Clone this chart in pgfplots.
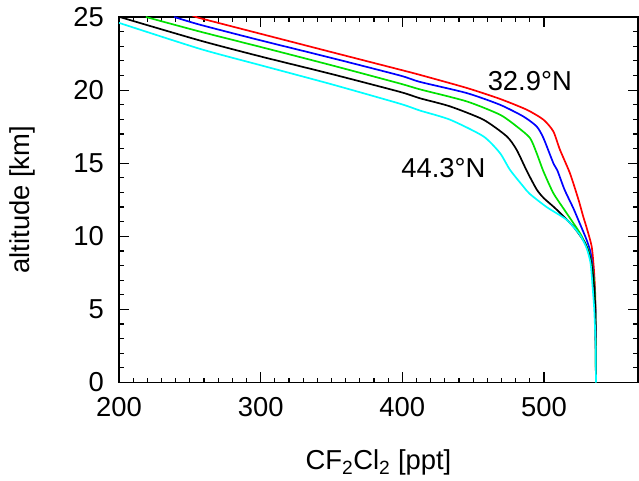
\documentclass[border=0pt]{standalone}
\usepackage{pgfplots}
\pgfplotsset{compat=1.18}
\usepackage{fontspec}
\setmainfont{Liberation Sans}
\definecolor{cgreen}{RGB}{0,225,0}
\definecolor{ccyan}{RGB}{0,255,255}
\begin{document}
\fontsize{27}{32}\selectfont
\begin{tikzpicture}
\begin{axis}[
  scale only axis,
  width=519bp, height=365.5bp,
  xmin=200, xmax=566.4, ymin=0, ymax=25,
  xtick={200,300,400,500}, ytick={0,5,10,15,20,25},
  minor x tick num=9, minor y tick num=4,
  tick align=inside,
  xtick pos=both, ytick pos=both,
  xticklabel pos=lower, yticklabel pos=left,
  major tick length=10bp, minor tick length=5bp,
  every tick/.style={black, line width=1.2pt},
  axis line style={line width=1.2pt},
  /pgf/number format/assume math mode=true,
  tick label style={font=\fontsize{27.5}{32}\selectfont},
  xticklabel style={yshift=-6bp},
  yticklabel style={xshift=-6bp},
  xlabel={CF\textsubscript{2}Cl\textsubscript{2} [ppt]},
  ylabel={altitude [km]},
  label style={font=\fontsize{27.5}{32}\selectfont},
  xlabel style={at={(axis description cs:0.5,-0.219)}, anchor=center},
  ylabel style={at={(axis description cs:-0.187,0.5)}, anchor=center, rotate=0},
  every axis plot/.append style={line width=1.7pt, smooth, tension=0.4},
]
\coordinate (SW) at (rel axis cs:0,0);
% red (32.9N)
\addplot[red] coordinates {
(255,25) (257.2,24.92) (300,23.85) (350,22.6) (398.3,21.4) (412.5,21.04) (445.4,20.15)
(468.9,19.4) (487.8,18.66) (499.6,17.98) (506.6,17.18) (511.3,15.92) (518.4,14.3)
(524.4,12.5) (527.7,11.36) (530.1,10.6) (533.7,9.3) (535.3,7.7) (536.2,6)
(536.6,3) (536.7,0)};
% blue
\addplot[blue] coordinates {
(239,25) (257.2,24.47) (300,23.4) (350,22.2) (398.3,21.0) (412.5,20.56) (445.4,19.8)
(468.9,19.0) (485.4,18.2) (494.8,17.52) (499.6,16.73) (506.6,15.01) (509.5,14.5)
(514.5,13.2) (520.7,11.93) (524.2,11.13) (530.1,9.76) (533,8.85) (535,7.3)
(536.2,5.5) (536.6,3) (536.7,0)};
% green
\addplot[cgreen] coordinates {
(219,25) (257.2,24.0) (300,22.95) (350,21.7) (398.3,20.45) (412.5,20.05) (445.4,19.23)
(468.9,18.32) (480.7,17.52) (490.1,16.73) (494.8,15.7) (499.6,14.45) (506.6,12.96)
(514.5,11.8) (525.4,10.22) (531.3,9.08) (533.5,8.2) (535.3,7) (536.3,5) (536.7,0)};
% black
\addplot[black] coordinates {
(200.5,25) (257.2,23.39) (300,22.3) (350,21.1) (398.3,19.88) (412.5,19.44) (433.6,18.89)
(457.2,17.98) (473.7,16.84) (480.7,15.92) (488,14.45) (494.9,13.2) (500,12.6)
(508.5,11.87) (520.7,10.67) (529,9.53) (533,8.39) (535,7) (536.2,5) (536.7,0)};
% cyan (44.3N)
\addplot[ccyan] coordinates {
(200,24.6) (257.2,22.82) (300,21.7) (350,20.4) (398.3,19.07) (412.5,18.6) (433.6,17.98)
(457.2,16.84) (468.9,15.7) (476,14.55) (485.4,13.41) (490,12.9) (501.9,12.0)
(516,11.13) (525.4,10.1) (530.1,9.2) (532.9,8.16) (534.3,6.6) (535.5,5)
(536.5,2.5) (536.7,0)};
\node[font=\fontsize{27.5}{32}\selectfont] at (axis cs:490,20.65) {32.9°N};
\node[font=\fontsize{27.5}{32}\selectfont] at (axis cs:429,14.66) {44.3°N};
\end{axis}
\pgfresetboundingbox
\path ([shift={(-119bp,-98.5bp)}]SW) rectangle ([shift={(520bp,382.5bp)}]SW);
\end{tikzpicture}
\end{document}
